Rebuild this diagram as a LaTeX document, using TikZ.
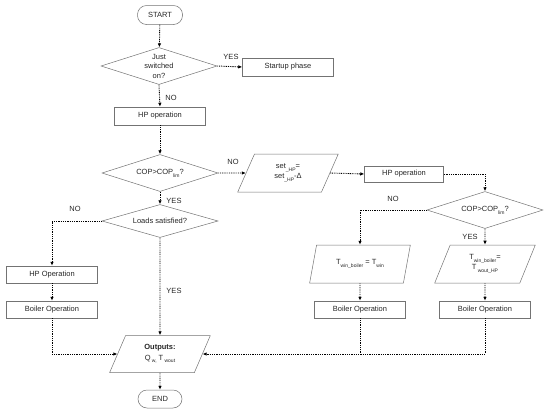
\documentclass[tikz,border=0pt]{standalone}
\usepackage{fontspec}
\setmainfont{Liberation Sans}
\usetikzlibrary{shapes.geometric,arrows.meta}
\newcommand\sbs[1]{\raisebox{-0.7ex}{\fontsize{5}{5}\selectfont #1}}
\begin{document}
\begin{tikzpicture}[x=1pt,y=-1pt,
  every node/.style={font=\fontsize{7.5}{9.5}\selectfont, text=black!85},
  proc/.style={draw=black!55, line width=0.5pt, rectangle, minimum width=91pt, minimum height=18pt, inner sep=1pt},
  term/.style={draw=black!55, line width=0.5pt, rounded corners=9pt, minimum width=45pt, minimum height=19pt, inner sep=1pt},
  dec/.style={draw=black!55, line width=0.5pt, diamond, shape aspect=3, inner sep=0pt, align=center, minimum width=116pt, minimum height=37pt},
  io/.style={draw=black!55, line width=0.5pt, trapezium, trapezium left angle=70, trapezium right angle=110, trapezium stretches=true, minimum width=101pt, minimum height=38pt, inner sep=1pt, align=center},
  flow/.style={line width=0.9pt, dash pattern=on 0.9pt off 0.9pt, -{Latex[length=4pt,width=3.5pt]}},
  plain/.style={line width=0.9pt, dash pattern=on 0.9pt off 0.9pt},
  lab/.style={inner sep=0pt}
]
\useasboundingbox (0,0) rectangle (550,413);

\node[term] (start) at (160,15) {START};
\node[dec] (d1) at (159,66) {Just\\switched\\on?};
\node[proc] (startup) at (288,67) {Startup phase};
\node[proc] (hp1) at (160,116) {HP operation};
\node[dec] (d2) at (160,173) {COP>COP\sbs{lim}?};
\node[io] (set) at (288,173) {set\sbs{\_HP}=\\set\sbs{\_HP}-Δ};
\node[proc, minimum width=79pt, minimum height=16pt] (hp2) at (404,174) {HP operation};
\node[dec] (d4) at (485,210) {COP>COP\sbs{lim}?};
\node[dec, minimum height=33pt] (d3) at (160,221) {Loads satisfied?};
\node[proc, minimum height=17pt] (hpL) at (52,274.5) {HP Operation};
\node[proc, minimum height=17pt] (boilL) at (52,309.5) {Boiler Operation};
\node[io] (pA) at (360,264) {T\sbs{win\_boiler} = T\sbs{win}};
\node[io] (pB) at (485,264) {T\sbs{win\_boiler}=\\T\,\sbs{wout\_HP}};
\node[proc, minimum height=17pt] (boilA) at (360,309.5) {Boiler Operation};
\node[proc, minimum height=17pt] (boilB) at (485,309.5) {Boiler Operation};
\node[io, minimum height=37pt] (out) at (160,354) {\textbf{Outputs:}\\[1pt]Q\,\sbs{w,} T\,\sbs{wout}};
\node[term, minimum height=18pt, minimum width=44pt] (end) at (160,399) {END};

\coordinate (join) at (485,354);

\draw[flow] (start) -- (d1);
\draw[flow] (d1.east) -- (startup.west);
\draw[flow] (d1.south) -- (hp1.north);
\draw[flow] (hp1) -- (d2);
\draw[flow] (d2.east) -- (set.west);
\draw[flow] (set.east) -- (hp2.west);
\draw[flow] (hp2.east) -| (d4.north);
\draw[flow] (d2.south) -- (d3.north);
\draw[flow] (d3.west) -| (hpL.north);
\draw[flow] (hpL) -- (boilL);
\draw[flow] (boilL.south) |- (out.west);
\draw[flow] (d3.south) -- (out.north);
\draw[flow] (d4.west) -| (pA.north);
\draw[flow] (d4.south) -- (pB.north);
\draw[flow] (pA.south) -- (boilA.north);
\draw[flow] (pB.south) -- (boilB.north);
\draw[flow] (boilB.south) |- (out.east);
\draw[plain] (boilA.south) -- (boilA.south |- join);
\draw[flow] (out) -- (end);

\node[lab] (l1) at (231,57) {YES};
\node[lab] (l2) at (171,98) {NO};
\node[lab] (l3) at (233,162) {NO};
\node[lab] (l4) at (174,201) {YES};
\node[lab] (l5) at (75,209) {NO};
\node[lab] (l6) at (174,291) {YES};
\node[lab] (l7) at (393,199) {NO};
\node[lab] (l8) at (470,237) {YES};
\end{tikzpicture}
\end{document}
